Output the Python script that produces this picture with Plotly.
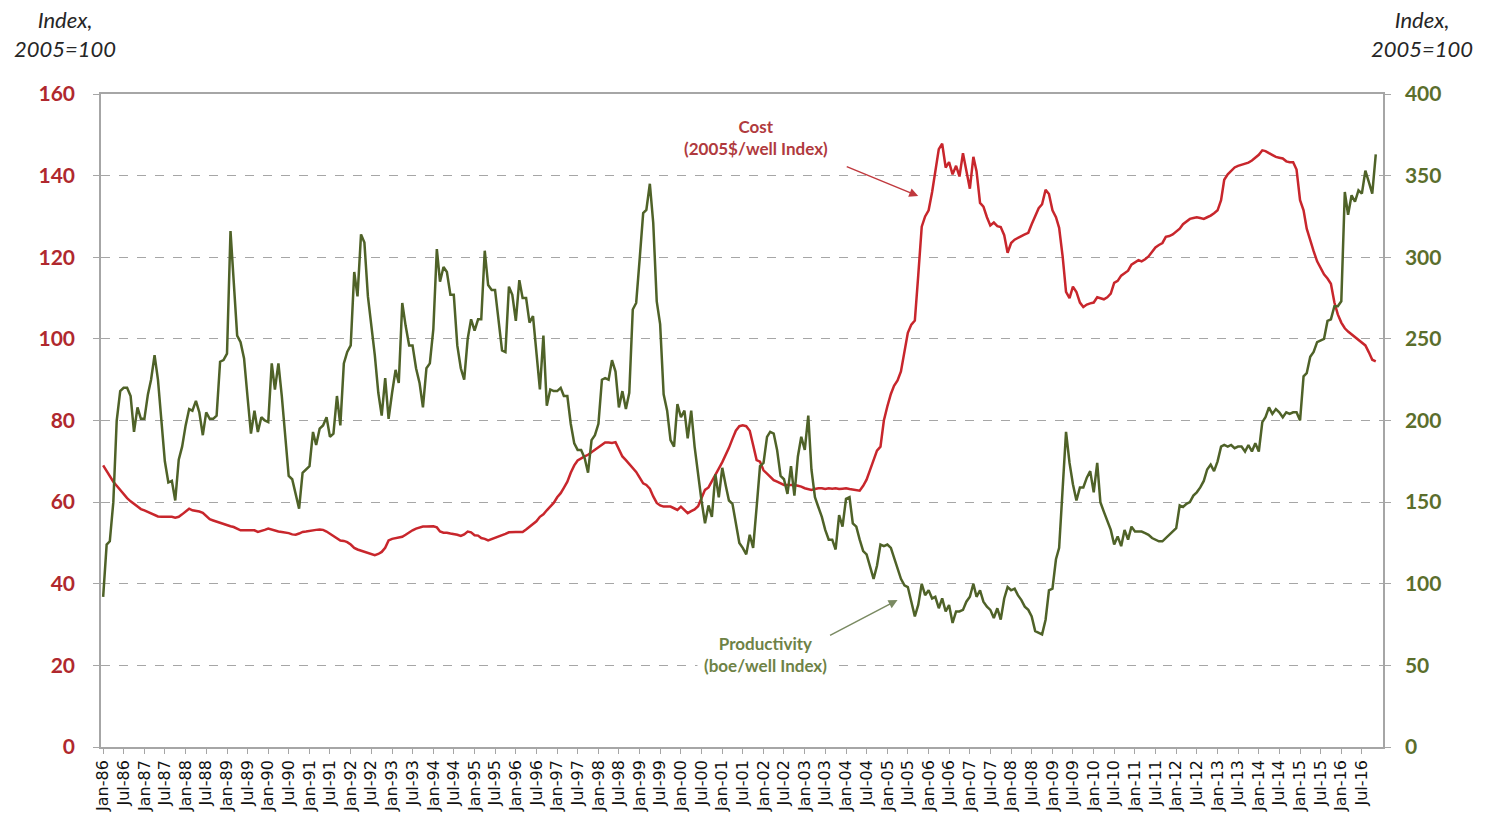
import pandas as pd
import plotly.graph_objects as go

# Monthly observations, Jan-1986 .. Nov-2016
months = pd.date_range("1986-01-01", periods=371, freq="MS")

# Axis tick positions: every January and July, Jan-86 .. Jul-16
tick_dates = months[::6]
tick_labels = [d.strftime("%b-%y") for d in tick_dates]

# Productivity (boe/well index) - right axis, Index 2005=100
productivity = [
    92, 124, 126, 150, 200, 218, 220, 220, 215, 193, 208, 201,   # 1986
    201, 216, 225, 240, 225, 197, 175, 162, 163, 151, 176, 184,  # 1987
    197, 207, 206, 212, 205, 191, 205, 201, 201, 203, 236, 237,  # 1988
    241, 316, 285, 252, 248, 238, 215, 192, 206, 193, 202, 200,  # 1989
    199, 235, 219, 235, 215, 189, 166, 164, 155, 146, 168, 170,  # 1990
    172, 193, 185, 195, 197, 202, 190, 192, 215, 197, 235, 242,  # 1991
    246, 291, 276, 314, 309, 276, 258, 240, 217, 203, 226, 201,  # 1992
    217, 231, 223, 272, 258, 246, 246, 232, 223, 208, 232, 235,  # 1993
    256, 305, 285, 294, 291, 277, 277, 246, 232, 225, 250, 262,  # 1994
    255, 262, 262, 304, 283, 280, 280, 260, 243, 242, 282, 277,  # 1995
    261, 286, 275, 275, 260, 264, 244, 219, 252, 209, 219, 218,  # 1996
    218, 220, 215, 215, 198, 186, 182, 182, 177, 168, 188, 191,  # 1997
    198, 225, 226, 225, 237, 230, 208, 218, 207, 217, 268, 272,  # 1998
    299, 327, 329, 345, 321, 273, 259, 216, 206, 188, 184, 210,  # 1999
    202, 206, 189, 206, 184, 166, 151, 137, 148, 141, 167, 153,  # 2000
    171, 160, 151, 149, 137, 125, 122, 118, 130, 122, 147, 172,  # 2001
    174, 190, 193, 192, 182, 166, 164, 155, 172, 154, 178, 190,  # 2002
    182, 203, 170, 153, 147, 141, 133, 127, 127, 121, 142, 135,  # 2003
    152, 153, 137, 135, 127, 120, 118, 111, 103, 111, 124, 123,  # 2004
    124, 122, 116, 110, 103, 99, 98, 89, 80, 87, 100, 93,        # 2005
    96, 91, 92, 85, 91, 83, 87, 76, 83, 83, 84, 89,              # 2006
    92, 100, 92, 96, 89, 86, 84, 79, 85, 78, 91, 98,             # 2007
    96, 97, 93, 90, 86, 84, 80, 71, 70, 69, 78, 96,              # 2008
    97, 115, 122, 159, 193, 174, 161, 151, 159, 159, 165, 169,   # 2009
    156, 174, 150, 144, 138, 133, 124, 129, 123, 133, 127, 135,  # 2010
    132, 132, 132, 131, 130, 128, 127, 126, 126, 128, 130, 132,  # 2011
    134, 148, 147, 149, 150, 154, 156, 159, 163, 170, 173, 169,  # 2012
    175, 184, 185, 184, 185, 183, 184, 184, 181, 185, 181, 186,  # 2013
    181, 199, 202, 208, 204, 207, 205, 202, 205, 204, 205, 205,  # 2014
    200, 227, 229, 239, 242, 248, 249, 250, 261, 262, 270, 270,  # 2015
    273, 340, 326, 338, 334, 341, 339, 353, 346, 339, 363,       # 2016
]

# Cost (2005$/well index) - left axis, Index 2005=100
cost = [
    69, 67.6, 66.1, 65, 64, 62.9, 62, 61, 60.2, 59.5, 58.8, 58.3,              # 1986
    58, 57.6, 57.2, 56.8, 56.5, 56.4, 56.4, 56.4, 56.4, 56.2, 56.4, 57,        # 1987
    57.8, 58.4, 58, 57.9, 57.7, 57.4, 56.5, 55.8, 55.5, 55.2, 55, 54.7,        # 1988
    54.4, 54.1, 53.9, 53.4, 53.1, 53.1, 53.1, 53, 53.1, 52.7, 52.9, 53.2,      # 1989
    53.5, 53.2, 53, 52.8, 52.7, 52.6, 52.4, 52.1, 52, 52.3, 52.7, 52.8,        # 1990
    53, 53.2, 53.2, 53.3, 53.2, 52.8, 52.3, 51.8, 51.1, 50.6, 50.5, 50.2,      # 1991
    49.6, 48.8, 48.4, 48.1, 47.8, 47.5, 47.2, 47, 47.3, 47.8, 48.8, 50.6,      # 1992
    51, 51.2, 51.3, 51.5, 52, 52.6, 53.1, 53.5, 53.8, 54, 54, 54.1,            # 1993
    54.1, 53.8, 52.8, 52.5, 52.5, 52.3, 52.2, 52, 51.7, 52.1, 52.8, 52.6,      # 1994
    51.9, 51.8, 51.2, 51, 50.6, 50.9, 51.2, 51.5, 51.8, 52.2, 52.6, 52.7,      # 1995
    52.7, 52.7, 52.7, 53.3, 54, 54.7, 55.3, 56.4, 57, 58, 58.8, 59.8,          # 1996
    61.2, 62.2, 63.5, 65, 67.2, 69, 70.2, 70.8, 71.2, 71.6, 72.2, 73,          # 1997
    73.6, 74.2, 74.6, 74.6, 74.5, 74.7, 73, 71.2, 70.3, 69.3, 68.3, 67.4,      # 1998
    66, 64.6, 64.2, 63.3, 61.4, 59.8, 59.2, 58.9, 58.9, 58.9, 58.5, 58.1,      # 1999
    58.9, 58, 57.3, 57.8, 58.2, 59, 61, 63, 63.6, 65, 66.6, 68.2,              # 2000
    69.8, 71.5, 73.3, 75.5, 77.5, 78.6, 78.8, 78.6, 77.5, 74, 70.3, 69.9,      # 2001
    67.8, 67, 66.2, 65.4, 65, 64.6, 64.2, 64.2, 64.2, 64.2, 64, 63.8,          # 2002
    63.4, 63.2, 63, 63.2, 63.4, 63.4, 63.2, 63.4, 63.3, 63.4, 63.2, 63.3,      # 2003
    63.4, 63.2, 63.1, 62.9, 62.8, 64, 65.5, 67.9, 70.2, 72.6, 73.6, 80,        # 2004
    83.5, 86.5, 88.5, 89.8, 92, 96.5, 101.5, 103.5, 104.5, 115.5, 127.5, 130,  # 2005
    131.5, 136, 141.5, 146.5, 147.8, 142, 143.3, 140.3, 142.4, 139.8, 145.5, 141.1,  # 2006
    136.8, 144.6, 141.1, 133.3, 132.4, 129.8, 127.8, 128.5, 127.6, 127.4, 125.4, 121.1,  # 2007
    123.5, 124.3, 124.8, 125.2, 125.6, 126, 128.1, 130.3, 132, 133, 136.5, 135.5,  # 2008
    131.5, 129.8, 127.2, 120.2, 111.5, 110, 112.8, 111.5, 108.9, 107.8, 108.4, 108.7,  # 2009
    108.9, 110.2, 110, 109.7, 110.2, 111.1, 113.7, 114.2, 115.5, 116, 116.7, 118.2,  # 2010
    118.8, 119.3, 119, 119.5, 120.2, 121.2, 122.4, 123, 123.5, 125, 125.2, 125.6,  # 2011
    126.3, 127, 128.1, 128.8, 129.4, 129.6, 129.8, 129.6, 129.4, 129.8, 130.2, 130.8,  # 2012
    131.5, 134, 139, 140.3, 141.1, 142, 142.4, 142.7, 142.9, 143.2, 143.7, 144.4,  # 2013
    145.1, 146.2, 146, 145.5, 145, 144.6, 144.4, 144.2, 143.5, 143.3, 143.3, 141.5,  # 2014
    134, 131.5, 127, 124, 121.5, 119, 117.3, 115.8, 114.8, 113.5, 108.9, 106,  # 2015
    104, 102.6, 101.8, 101.1, 100.4, 99.8, 99.2, 98.4, 96.7, 94.9, 94.5,       # 2016
]

RED = "#C8262C"
GREEN = "#4F6228"
RED_TXT = "#B0282E"
GREEN_TXT = "#5B6E2C"
GRID = "#A6A6A6"

fig = go.Figure()
fig.add_trace(go.Scatter(x=months, y=cost, mode="lines", yaxis="y",
                         line=dict(color=RED, width=2.5), name="Cost"))
fig.add_trace(go.Scatter(x=months, y=productivity, mode="lines", yaxis="y2",
                         line=dict(color=GREEN, width=2.5), name="Productivity"))

fig.update_layout(
    width=1488, height=838,
    margin=dict(l=101, r=105, t=94, b=91),
    paper_bgcolor="white", plot_bgcolor="white",
    showlegend=False,
    xaxis=dict(
        type="date",
        range=["1985-12-13", "2017-01-04"],
        tickmode="array", tickvals=list(tick_dates), ticktext=tick_labels,
        tickangle=-90,
        tickfont=dict(family="DejaVu Sans", size=16, color="#111111"),
        showline=True, linecolor=GRID, linewidth=1.5, mirror=True,
        ticks="outside", ticklen=5, tickcolor=GRID,
        showgrid=False, zeroline=False,
    ),
    yaxis=dict(
        range=[0, 160], dtick=20,
        tickfont=dict(family="Lato", size=21, color=RED_TXT, weight="bold"),
        showgrid=True, gridcolor=GRID, griddash="dash", gridwidth=1,
        showline=True, linecolor=GRID, linewidth=1.5,
        ticks="outside", ticklen=6, tickcolor=GRID,
        zeroline=False, ticklabelstandoff=14,
    ),
    yaxis2=dict(
        range=[0, 400], dtick=50, overlaying="y", side="right",
        tickfont=dict(family="Lato", size=21, color=GREEN_TXT, weight="bold"),
        showgrid=False,
        showline=True, linecolor=GRID, linewidth=1.5,
        ticks="outside", ticklen=6, tickcolor=GRID,
        zeroline=False, ticklabelstandoff=10,
    ),
)

title_font = dict(family="Lato", size=22, color="#262626")
fig.add_annotation(text="<i>Index,<br>2005=100</i>", xref="paper", yref="paper",
                   x=-0.028, y=1.092, xanchor="center", yanchor="middle",
                   showarrow=False, font=title_font)
fig.add_annotation(text="<i>Index,<br>2005=100</i>", xref="paper", yref="paper",
                   x=1.0304, y=1.092, xanchor="center", yanchor="middle",
                   showarrow=False, font=title_font)

fig.add_annotation(text="<b>Cost<br>(2005$/well Index)</b>", xref="paper", yref="paper",
                   x=0.511, y=0.934, xanchor="center", yanchor="middle",
                   showarrow=False, bgcolor="white",
                   font=dict(family="Lato", size=17, color="#B03A3E"))
fig.add_annotation(text="", x="2005-10-01", y=135, xref="x", yref="y",
                   ax=-73, ay=-30, showarrow=True, arrowhead=2, arrowsize=1.2,
                   arrowwidth=1.5, arrowcolor="#C0393E")

fig.add_annotation(text="<b>Productivity<br>(boe/well Index)</b>", xref="paper", yref="paper",
                   x=0.518, y=0.141, xanchor="center", yanchor="middle",
                   showarrow=False, bgcolor="white", borderpad=6,
                   font=dict(family="Lato", size=17, color="#6E8246"))
fig.add_annotation(text="", x="2005-04-01", y=36, xref="x", yref="y",
                   ax=-69, ay=36, showarrow=True, arrowhead=2, arrowsize=1.2,
                   arrowwidth=1.5, arrowcolor="#7A8A62")

fig.write_html("out.html")
